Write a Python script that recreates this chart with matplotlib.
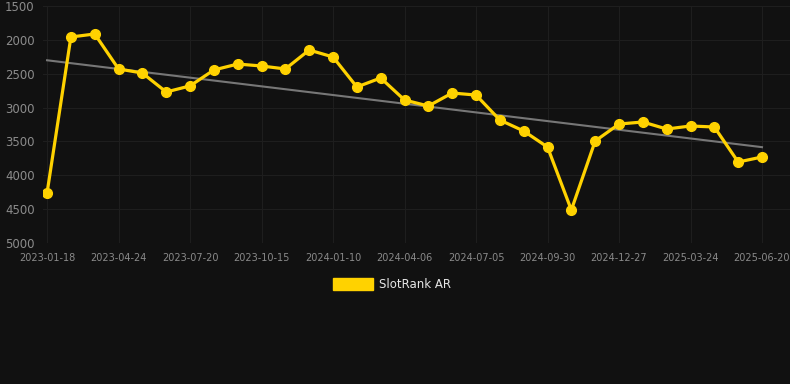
import matplotlib
matplotlib.use("Agg")
import matplotlib.pyplot as plt
import numpy as np

ranks = [4262, 1958, 1913, 2430, 2490, 2770, 2680, 2445, 2357, 2386,
         2430, 2150, 2253, 2696, 2563, 2888, 2977, 2785, 2815, 3184,
         3346, 3583, 4513, 3494, 3243, 3213, 3317, 3272, 3287, 3804, 3730]
tick_labels = ["2023-01-18", "2023-04-24", "2023-07-20", "2023-10-15", "2024-01-10",
               "2024-04-06", "2024-07-05", "2024-09-30", "2024-12-27", "2025-03-24",
               "2025-06-20"]
series_name = "SlotRank AR"
y_ticks = [1500, 2000, 2500, 3000, 3500, 4000, 4500, 5000]

bg = "#111111"
fig = plt.figure(figsize=(7.9, 3.84), dpi=100, facecolor=bg)
ax = fig.add_axes([43/790, 1-243/384, (790-43)/790, (243-6)/384], facecolor=bg)

x = np.arange(len(ranks))
coef = np.polyfit(x, ranks, 1)
ax.plot(x, np.polyval(coef, x), color="#777777", lw=1.5, zorder=2)
ax.plot(x, ranks, color="#FFD200", lw=2.3, marker="o", markersize=7, zorder=3)

ax.set_ylim(5000, 1500)
ax.set_xlim(-0.17, len(ranks) - 1 + (790-762)/23.83)
ax.set_yticks(y_ticks)
ax.set_xticks(x[::3])
ax.set_xticklabels(tick_labels)
ax.grid(True, color="#1e1e1e", lw=0.8)
ax.set_axisbelow(True)
for s in ax.spines.values():
    s.set_visible(False)
ax.tick_params(axis="y", length=0, colors="#8c8c8c", labelsize=8.5, pad=6)
ax.tick_params(axis="x", length=0, colors="#8a8a8a", labelsize=7, pad=7)

# legend
fig.patches.append(plt.Rectangle((333/790, 1-290/384), 40/790, 12/384,
                                 transform=fig.transFigure, color="#FFD200"))
fig.text(379/790, 1-284/384, series_name, color="#e6e6e6", fontsize=8.5, va="center")

fig.savefig("out.png", dpi=100, facecolor=bg)
